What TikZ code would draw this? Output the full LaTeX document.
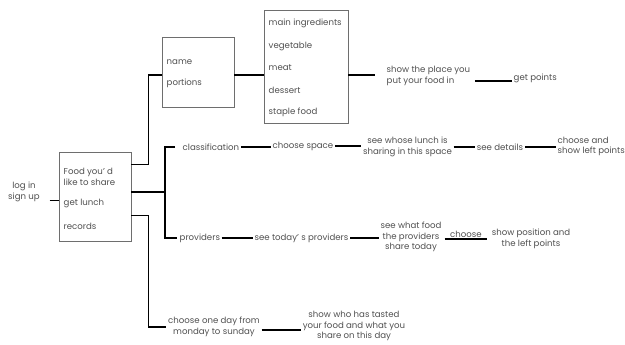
\documentclass[tikz,border=0pt]{standalone}
\usepackage{fontspec}
\setmainfont{Poppins}
\definecolor{inkgray}{RGB}{80,80,80}
\definecolor{framegray}{RGB}{110,110,110}
\tikzset{
  txt/.style={font=\fontsize{8.6}{10.8}\selectfont, text=inkgray, inner sep=1.5pt},
  menubox/.style={draw=framegray, line width=0.8pt, inner sep=0pt},
  link/.style={black, line width=1.7pt}
}
\begin{document}
\begin{tikzpicture}[x=1pt, y=-1pt]
      \useasboundingbox (0,0) rectangle (625,345);

      % Entry and main menu
      \node[txt, align=center] (login) at (24,192) {log in\\sign up};
      \node[menubox, minimum width=72, minimum height=89] (food) at (95,196.5) {};
      \node[txt, align=left, anchor=west] (share) at (62,176.5) {Food you’ d\\like to share};
      \node[txt, anchor=west] (lunch) at (62,203) {get lunch};
      \node[txt, anchor=west] (records) at (62,226) {records};
      \draw[link] ([yshift=-4]food.west) ++(-9,0) -- ([yshift=-4]food.west);

      % Sharing branch
      \node[menubox, minimum width=72, minimum height=70] (namebox) at (198,72) {};
      \node[txt, anchor=west] (name) at (165,62) {name};
      \node[txt, anchor=west] (portions) at (165,83) {portions};
      \node[menubox, minimum width=84, minimum height=113] (ingr) at (306,66.5) {};
      \foreach \y/\item in {23/main ingredients, 46/vegetable, 68/meat, 90/dessert, 112/staple food} {
          \node[txt, anchor=west] at (267,\y) {\item};
        }
      \node[txt, align=left, anchor=west] (place) at (385,76) {show the place you\\put your food in};
      \node[txt, anchor=west] (points) at (512,78) {get points};
      \draw[link] ([yshift=32]food.east) -- ++(17,0) |- ([yshift=-3]namebox.west);
      \draw[link] ([yshift=-3]namebox.east) -- ([yshift=-8.5]ingr.west);
      \draw[link] ([yshift=-8.5]ingr.east) -- ++(27,0);
      \draw[link] ([yshift=-5]place.east) ++(3,0) -- ([yshift=-5]place.east -| points.west);

      % Lunch branch
      \coordinate (hub) at (165,192);
      \node[txt, anchor=west] (classif) at (181,147) {classification};
      \node[txt] (space) at (303,146) {choose space};
      \node[txt, align=center] (whose) at (407.5,146.5) {see whose lunch is\\sharing in this space};
      \node[txt] (details) at (500,147) {see details};
      \node[txt, align=left, anchor=west] (choosepts) at (556,146.5) {choose and\\show left points};
      \node[txt, anchor=west] (prov) at (178,238) {providers};
      \node[txt] (today) at (301.5,238) {see today’ s providers};
      \node[txt, align=center] (what) at (411,237) {see what food\\the providers\\share today};
      \node[txt] (choose) at (466,234) {choose};
      \node[txt, align=center] (position) at (531,238.5) {show position and\\the left points};
      \draw[link] (food.east |- hub) -- (hub);
      \draw[link] ([xshift=-6]classif.west) -| (hub) |- ([xshift=-1]prov.west);
      \draw[link] (classif.east) -- (classif.east -| space.west);
      \draw[link] (space.east) -- (space.east -| whose.west);
      \draw[link] (details.west -| whose.east) -- (details.west);
      \draw[link] (details.east) -- (details.east -| choosepts.west);
      \draw[link] (prov.east) -- (today.west);
      \draw[link] (today.east) -- (today.east -| what.west);
      \draw[line width=1.2pt] ([xshift=-4]choose.south west) -- ([xshift=4]choose.south east);

      % Records branch
      \node[txt, align=center] (day) at (214,327) {choose one day from\\monday to sunday};
      \node[txt, align=center] (tasted) at (354,326) {show who has tasted\\your food and what you\\share on this day};
      \draw[link] ([yshift=-19]food.east) -- ++(17,0) |- (day.west);
      \draw[link] ([yshift=-3]day.east) -- ([yshift=-3]day.east -| tasted.west);
\end{tikzpicture}
\end{document}
